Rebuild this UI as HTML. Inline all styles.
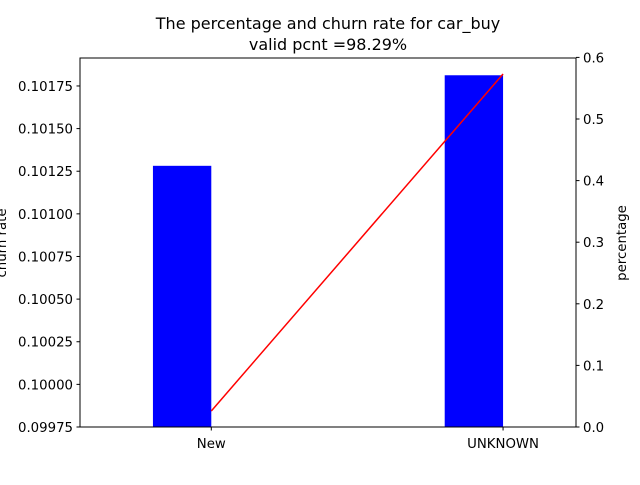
<!DOCTYPE html>
<html><head><meta charset="utf-8"><style>
body{margin:0;background:#fff}
svg{font-family:"DejaVu Sans","Liberation Sans",sans-serif}
</style></head><body>
<svg id="chart" width="640" height="480" viewBox="0 0 640 480">
<text x="328" y="29" font-size="16" text-anchor="middle">The percentage and churn rate for car_buy</text>
<text x="328" y="50" font-size="16" text-anchor="middle">valid pcnt =98.29%</text>
<g id="bars"></g><g id="line"></g><g id="axes"></g>
</svg>
<script>
const categories=["New","UNKNOWN"];
const percentage=[0.424,0.571];
const churnRate=[0.099844,0.10182];
const leftTicks=[0.09975,0.10000,0.10025,0.10050,0.10075,0.10100,0.10125,0.10150,0.10175];
const rightTicks=[0.0,0.1,0.2,0.3,0.4,0.5,0.6];

const L=80,R=576,T=58,B=427;
const xMin=-0.45,xMax=1.25;
const yLmin=0.09975,yLmax=0.101914;
const yRmin=0,yRmax=0.6;
const NS="http://www.w3.org/2000/svg";
const X=v=>L+(v-xMin)/(xMax-xMin)*(R-L);
const YL=v=>B-(v-yLmin)/(yLmax-yLmin)*(B-T);
const YR=v=>B-(v-yRmin)/(yRmax-yRmin)*(B-T+0.6);
function mk(tag,attrs,parent){const e=document.createElementNS(NS,tag);for(const k in attrs)e.setAttribute(k,attrs[k]);document.getElementById(parent).appendChild(e);return e;}

percentage.forEach((p,i)=>{
 const r=mk("rect",{x:X(i-0.2),y:YR(p),width:X(i)-X(i-0.2),height:B-YR(p),fill:"#0000ff"},"bars");
 
 
});
const pl=mk("polyline",{points:churnRate.map((c,i)=>X(i)+","+YL(c)).join(" "),fill:"none",stroke:"#ff0000","stroke-width":1.5},"line");



const fr=mk("rect",{x:L,y:T,width:R-L,height:B-T,fill:"none",stroke:"#000","stroke-width":1},"axes");



leftTicks.forEach(t=>{
 const y=YL(t);
 mk("line",{x1:L-3.5,x2:L,y1:y,y2:y,stroke:"#000"},"axes");
 const tx=mk("text",{x:L-7,y:y+5,"font-size":13.3,"text-anchor":"end"},"axes");
 tx.textContent=t.toFixed(5);
 
 
});
rightTicks.forEach(t=>{
 const y=YR(t);
 mk("line",{x1:R,x2:R+3.5,y1:y,y2:y,stroke:"#000"},"axes");
 const tx=mk("text",{x:R+7,y:y+5,"font-size":13.3},"axes");
 tx.textContent=t.toFixed(1);
 
 
});
categories.forEach((c,i)=>{
 const x=X(i);
 mk("line",{x1:x,x2:x,y1:B,y2:B+3.5,stroke:"#000"},"axes");
 const tx=mk("text",{x:x,y:B+21,"font-size":13.3,"text-anchor":"middle"},"axes");
 tx.textContent=c;
 
 
});
const yl=mk("text",{x:0,y:0,"font-size":13.3,"text-anchor":"middle",transform:"translate(6,243) rotate(-90)"},"axes");
yl.textContent="churn rate";


const yr=mk("text",{x:0,y:0,"font-size":13.3,"text-anchor":"middle",transform:"translate(626,243) rotate(-90)"},"axes");
yr.textContent="percentage";


</script>
</body></html>
